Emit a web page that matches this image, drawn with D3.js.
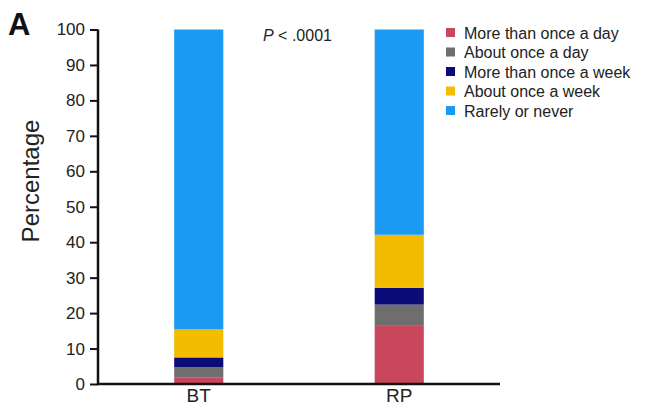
<!DOCTYPE html>
<html>
<head>
<meta charset="utf-8">
<script src="https://cdn.jsdelivr.net/npm/d3@7"></script>
<style>
  body { margin: 0; background: #fff; }
  svg { display: block; font-family: "Liberation Sans", Arial, sans-serif; }
</style>
</head>
<body>
<div id="chart"></div>
<script>
// groups and stacked percentages
var groups = ['BT', 'RP'];
var seriesNames = ['More than once a day', 'About once a day', 'More than once a week', 'About once a week', 'Rarely or never'];
var moreThanOnceADay  = [1.9, 16.4];
var aboutOnceADay     = [2.8, 6.0];
var moreThanOnceAWeek = [2.8, 4.7];
var aboutOnceAWeek    = [7.9, 15.0];
var rarelyOrNever     = [84.6, 57.9];
var colors = ['#c8475a', '#6e6e6e', '#0b0c78', '#f4bc00', '#1b9af4'];
var yTicks = [0, 10, 20, 30, 40, 50, 60, 70, 80, 90, 100];

var width = 654, height = 416;
var svg = d3.select('#chart').append('svg')
  .attr('width', width)
  .attr('height', height);

var x = d3.scaleBand()
  .domain(groups)
  .range([98, 500])
  .paddingInner(0.755)
  .paddingOuter(0.38);

var y = d3.scaleLinear()
  .domain([0, 100])
  .range([384, 29.5]);

// build rows for d3.stack
var values = [moreThanOnceADay, aboutOnceADay, moreThanOnceAWeek, aboutOnceAWeek, rarelyOrNever];
var rows = groups.map(function(g, i) {
  var r = { group: g };
  seriesNames.forEach(function(s, j) { r[s] = values[j][i]; });
  return r;
});
var stacked = d3.stack().keys(seriesNames)(rows);

svg.append('g').selectAll('g')
  .data(stacked)
  .enter().append('g')
  .attr('fill', function(d, i) { return colors[i]; })
  .selectAll('rect')
  .data(function(d) { return d; })
  .enter().append('rect')
  .attr('x', function(d) { return x(d.data.group); })
  .attr('width', x.bandwidth())
  .attr('y', function(d) { return y(d[1]); })
  .attr('height', function(d) { return y(d[0]) - y(d[1]); });

// y axis
var yAxis = svg.append('g')
  .attr('transform', 'translate(98,0)')
  .call(d3.axisLeft(y).tickValues(yTicks).tickSize(8).tickPadding(5));
yAxis.select('.domain').attr('d', 'M0,' + y(100) + 'V' + (y(0) + 1)).attr('stroke', '#111').attr('stroke-width', 2.5);
yAxis.selectAll('.tick line').attr('stroke', '#111').attr('stroke-width', 2);
yAxis.selectAll('.tick text').attr('font-size', 17).attr('fill', '#222').attr('font-family', '"Liberation Sans", Arial, sans-serif');

// x axis
var xAxis = svg.append('g')
  .attr('transform', 'translate(0,384)')
  .call(d3.axisBottom(x).tickSize(0).tickPadding(5));
xAxis.select('.domain').attr('d', 'M97,0H500').attr('stroke', '#111').attr('stroke-width', 2.5);
xAxis.selectAll('.tick text').attr('font-size', 19).attr('fill', '#222').attr('font-family', '"Liberation Sans", Arial, sans-serif');

// y label
svg.append('text')
  .attr('transform', 'translate(39,181) rotate(-90)')
  .attr('text-anchor', 'middle')
  .attr('font-size', 24)
  .attr('fill', '#222')
  .text('Percentage');

// panel letter
svg.append('text')
  .attr('x', 8)
  .attr('y', 35)
  .attr('font-size', 31)
  .attr('font-weight', 'bold')
  .attr('fill', '#111')
  .text('A');

// p value
var p = svg.append('text')
  .attr('x', 263)
  .attr('y', 41)
  .attr('font-size', 16)
  .attr('fill', '#222');
p.append('tspan').attr('font-style', 'italic').text('P');
p.append('tspan').text(' < .0001');

// legend
var legend = svg.append('g').selectAll('g')
  .data(seriesNames)
  .enter().append('g')
  .attr('transform', function(d, i) { return 'translate(446,' + (32.5 + i * 19.5) + ')'; });
legend.append('rect')
  .attr('x', 0).attr('y', -4.5)
  .attr('width', 9).attr('height', 9)
  .attr('fill', function(d, i) { return colors[i]; });
legend.append('text')
  .attr('x', 18)
  .attr('y', 6)
  .attr('font-size', 16)
  .attr('fill', '#222')
  .text(function(d) { return d; });
</script>
</body>
</html>
